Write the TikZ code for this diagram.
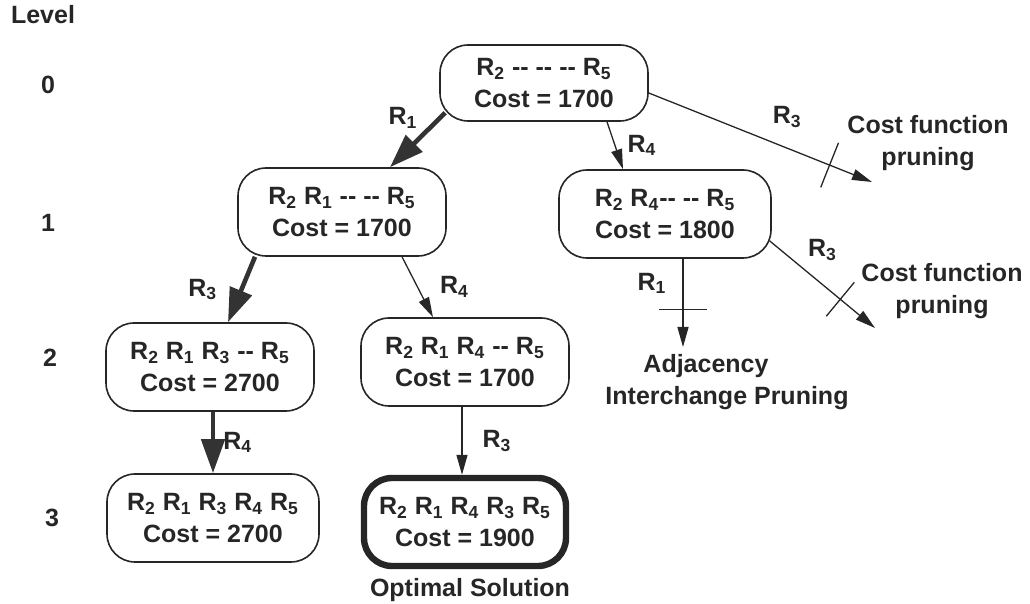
\documentclass[tikz,border=0pt]{standalone}
\usepackage{fontspec}
\setmainfont{Liberation Sans}
\usetikzlibrary{arrows.meta,calc,positioning}
\begin{document}
\begin{tikzpicture}[x=0.5pt,y=-0.5pt,
  font=\fontsize{12.5}{16}\selectfont\bfseries,
  every node/.style={text=black!85},
  state/.style={draw=black!85, line width=0.8pt, rounded corners=14pt,
    align=center, minimum width=104pt, minimum height=44pt, inner sep=2pt},
  best/.style={state, line width=3.2pt},
  lbl/.style={inner sep=1pt},
  thin/.style={draw=black!85, line width=0.65pt,
    -{Triangle[length=10pt,width=5.5pt]}},
  heavy/.style={draw=black!80, line width=2.3pt,
    -{Triangle[length=17pt,width=11.5pt]}},
  cut/.style={draw=black!85, line width=0.65pt}]
\useasboundingbox (0,0) rectangle (1030,604);

% level numbers
\node (lv)  at (43,15)  {Level};
\node (lv0) at (48,85)  {0};
\node (lv1) at (48,223) {1};
\node (lv2) at (50,358) {2};
\node (lv3) at (52,518) {3};

% search tree states
\node[state, minimum height=38pt] (n0) at (544,83)
  {R\textsubscript{2} {-}{-} {-}{-} {-}{-} R\textsubscript{5}\\Cost = 1700};
\node[state] (n1a) at (342,212)
  {R\textsubscript{2} R\textsubscript{1} {-}{-} {-}{-} R\textsubscript{5}\\Cost = 1700};
\node[state, minimum width=106pt] (n1b) at (665,214)
  {R\textsubscript{2} R\textsubscript{4}{-}{-} {-}{-} R\textsubscript{5}\\Cost = 1800};
\node[state] (n2a) at (210,367)
  {R\textsubscript{2} R\textsubscript{1} R\textsubscript{3} {-}{-} R\textsubscript{5}\\Cost = 2700};
\node[state] (n2b) at (465,362)
  {R\textsubscript{2} R\textsubscript{1} R\textsubscript{4} {-}{-} R\textsubscript{5}\\Cost = 1700};
\node[state, minimum width=106pt] (n3a) at (213,518)
  {R\textsubscript{2} R\textsubscript{1} R\textsubscript{3} R\textsubscript{4} R\textsubscript{5}\\Cost = 2700};
\node[best, minimum width=101pt] (n3b) at (465,522)
  {R\textsubscript{2} R\textsubscript{1} R\textsubscript{4} R\textsubscript{3} R\textsubscript{5}\\Cost = 1900};
\node (opt) at (470,590) {Optimal Solution};

% pruned branch ends
\coordinate (c1) at (872,182);
\coordinate (c2) at (683,347);
\coordinate (c3) at (875,328);
\node[align=center] (p1) at (928,143) {Cost function\\pruning};
\node[align=center] (p2) at (942,291) {Cost function\\pruning};
\node[align=center] (p3) at (727,382) {Adjacency\hspace*{21pt}\\Interchange Pruning};

% expanded branches
\draw[heavy] ([xshift=3pt,yshift=4.5pt]n0.south west) -- ([xshift=24pt]n1a.north)
  node[lbl, pos=0.1, left=9pt] {R\textsubscript{1}};
\draw[thin] ([xshift=31.5pt]n0.south) -- ([xshift=-21pt]n1b.north)
  node[lbl, midway, right=5pt] {R\textsubscript{4}};
\draw[heavy] ([xshift=-43.5pt]n1a.south) -- ([xshift=9pt]n2a.north)
  node[lbl, midway, left=10pt] {R\textsubscript{3}};
\draw[thin] ([xshift=30pt]n1a.south) -- ([xshift=-16pt]n2b.north)
  node[lbl, midway, right=10pt] {R\textsubscript{4}};
\draw[heavy] (n3a.north |- n2a.south) -- (n3a.north)
  node[lbl, midway, right=3pt] {R\textsubscript{4}};
\draw[thin] ([xshift=-1.5pt]n2b.south) -- ([xshift=-1.5pt]n3b.north)
  node[lbl, midway, right=9pt] {R\textsubscript{3}};

% pruned branches, each crossed by a cut mark
\draw[thin] ([yshift=-5pt]n0.east) -- (c1)
  coordinate[pos=0.81] (t1)
  node[lbl, pos=0.62, above=9pt] {R\textsubscript{3}};
\draw[cut] ($(t1)!12pt!90:(c1)$) -- ($(t1)!12pt!-90:(c1)$);

\draw[thin] (n1b.south -| c2) -- (c2)
  coordinate[pos=0.575] (t2)
  node[lbl, pos=0.28, left=7pt] {R\textsubscript{1}};
\draw[cut] ($(t2)!12pt!90:(c2)$) -- ($(t2)!12pt!-90:(c2)$);

\draw[thin] ([xshift=-1pt,yshift=-13.5pt]n1b.east) -- (c3)
  coordinate[pos=0.67] (t3)
  node[lbl, pos=0.3, above right=2pt and 2pt] {R\textsubscript{3}};
\draw[cut] ($(t3)!11pt!90:(c3)$) -- ($(t3)!11pt!-90:(c3)$);
\end{tikzpicture}
\end{document}
